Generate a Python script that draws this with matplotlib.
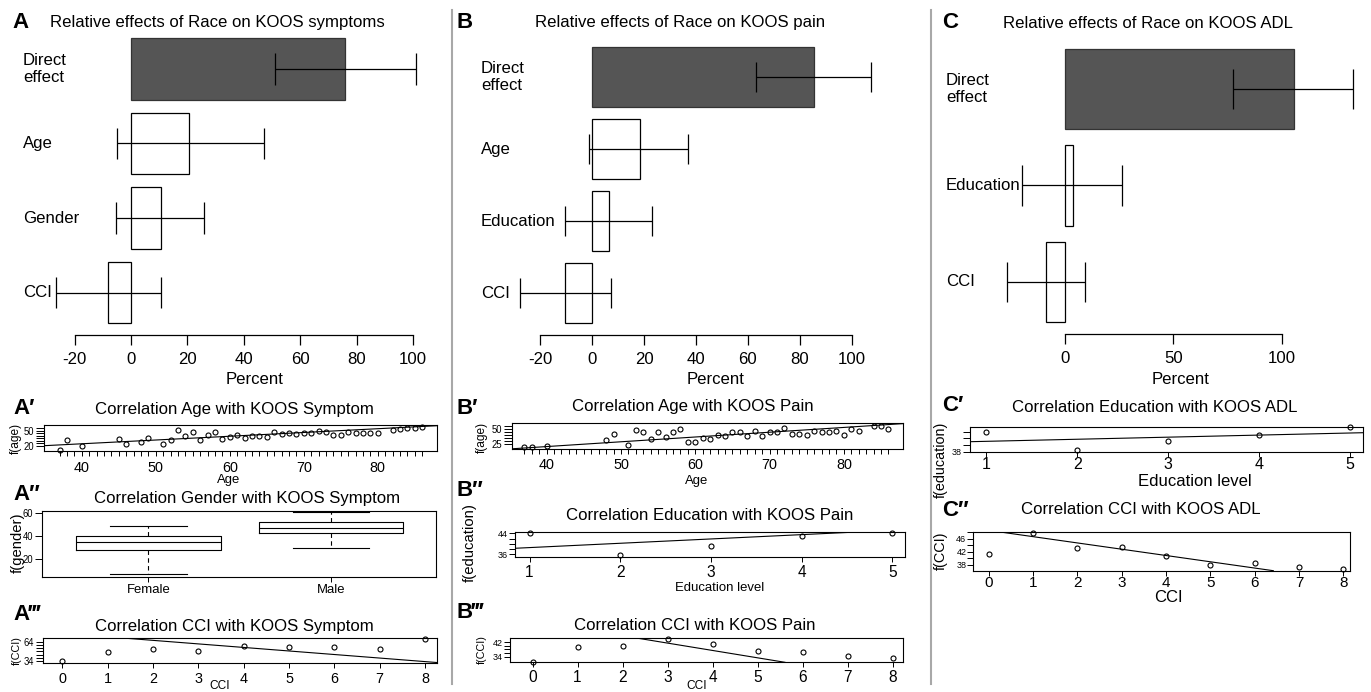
import numpy as np
import matplotlib
matplotlib.use("Agg")
import matplotlib.pyplot as plt
import matplotlib.transforms as mtransforms
from matplotlib import font_manager
from matplotlib.lines import Line2D

# top row: relative effect of race (percent) with interval
a_labels = ["Direct\neffect", "Age", "Gender", "CCI"]
a_est = [76, 20.6, 10.6, -8]
a_lo = [50.9, -5, -5.5, -26.7]
a_hi = [101, 47, 26, 10.6]

b_labels = ["Direct\neffect", "Age", "Education", "CCI"]
b_est = [85.5, 18.5, 6.4, -10.3]
b_lo = [63, -1.3, -10.6, -27.7]
b_hi = [107.3, 37, 23, 7.2]

c_labels = ["Direct\neffect", "Education", "CCI"]
c_est = [105.5, 3.5, -8.8]
c_lo = [77.4, -19.7, -26.9]
c_hi = [132.8, 26.4, 9.2]

# A' age vs f(age), symptoms
a1_age = [37, 38, 40, 45, 46, 48, 49, 51, 52, 53, 54, 55, 56, 57, 58, 59, 60, 61, 62, 63, 64,
          65, 66, 67, 68, 69, 70, 71, 72, 73, 74, 75, 76, 77, 78, 79, 80, 82, 83, 84, 85, 86]
a1_f = [11.4, 31.4, 19.4, 33.4, 24, 26.7, 36, 24, 30.7, 50.7, 38.7, 48, 31.4, 41.3, 48, 33.4,
        38, 41.3, 36, 38.7, 40, 38, 48, 44, 46, 44, 45.4, 46, 50, 48, 40.7, 40.7, 48, 44.7,
        46, 46, 46, 50.7, 53.4, 54.7, 56, 58]
a1_fit = [(34.9, 20), (88.0, 60)]

# A'' gender boxplots
a2_groups = ["Female", "Male"]
a2_q1 = [27.7, 42.3]
a2_med = [34.6, 47.1]
a2_q3 = [40.3, 52.0]
a2_lo = [7.4, 29.5]
a2_hi = [48.6, 60.8]

# A''' CCI
a3_cci = [0, 1, 2, 3, 4, 5, 6, 7, 8]
a3_f = [34, 47.5, 52.2, 50, 57.8, 55.7, 56.2, 52.2, 68.5]
a3_fit = [(1.42, 69.3), (7.93, 33.5)]

# B' age, pain
b1_age = [37, 38, 40, 48, 49, 51, 52, 53, 54, 55, 56, 57, 58, 59, 60, 61, 62, 63, 64, 65,
          66, 67, 68, 69, 70, 71, 72, 73, 74, 75, 76, 77, 78, 79, 80, 81, 82, 84, 85, 86]
b1_f = [20, 20, 22, 32, 43, 24, 49, 45, 34, 45, 37, 45, 51, 29, 29, 35, 34, 41, 39, 45,
        45, 39, 47, 39, 45, 45, 53, 43, 43, 41, 48, 45, 45, 47, 41, 51, 47, 55, 55, 51]
b1_fit = [(35.3, 17.5), (88.0, 59.5)]

# B'' education, pain
b2_edu = [1, 2, 3, 4, 5]
b2_f = [44, 35.7, 39.3, 43.1, 44]
b2_fit = [(0.84, 38.3), (4.68, 44.6)]

# B''' CCI, pain
b3_cci = [0, 1, 2, 3, 4, 5, 6, 7, 8]
b3_f = [31.3, 39.2, 39.9, 43.9, 40.9, 37.1, 36.4, 34.5, 33.1]
b3_fit = [(2.35, 44.2), (5.61, 30.9)]

# C' education, ADL
c1_edu = [1, 2, 3, 4, 5]
c1_f = [44, 38.5, 41.2, 43, 45.3]
c1_fit = [(0.82, 41), (5.15, 43.7)]

# C'' CCI, ADL
c2_cci = [0, 1, 2, 3, 4, 5, 6, 7, 8]
c2_f = [41.3, 47.9, 43.3, 43.6, 40.6, 38, 38.7, 37.2, 36.8]
c2_fit = [(0.21, 48.2), (6.42, 36.2)]

# fonts: narrow helvetica look if we have it
names = {f.name for f in font_manager.fontManager.ttflist}
if "Liberation Sans Narrow" in names:
    narrow = "Liberation Sans Narrow"
    k = 1.0
else:
    narrow = "Liberation Sans"
    k = 0.86
plt.rcParams["font.family"] = [narrow, "DejaVu Sans"]
plt.rcParams["axes.unicode_minus"] = False
REG = ["Liberation Sans", "DejaVu Sans"]

W, H = 1371, 692
fig = plt.figure(figsize=(W / 100, H / 100), dpi=100)


def px_axes(x0, y0, x1, y1):
    return fig.add_axes([x0 / W, 1 - y1 / H, (x1 - x0) / W, (y1 - y0) / H])


def ftext(x, y, s, size, **kw):
    kw.setdefault("ha", "center")
    kw.setdefault("va", "center")
    fig.text(x / W, 1 - y / H, s, fontsize=size, **kw)


def letter(x, y, s):
    fig.text(x / W, 1 - y / H, s, fontsize=16, fontweight="bold", family=REG,
             ha="left", va="center")


def effect_panel(box, xlim, ylim, labels, est, lo, hi, ticks, label_x):
    ax = px_axes(*box)
    rows = np.arange(len(labels))
    fills = ["#555555"] + ["white"] * (len(labels) - 1)
    edges = ["#333333"] + ["black"] * (len(labels) - 1)
    ax.barh(rows, est, height=0.83, color=fills, edgecolor=edges, linewidth=0.9)
    ax.hlines(rows, lo, hi, color="black", lw=0.9)
    ax.vlines(lo, rows - 0.21, rows + 0.21, color="black", lw=0.9)
    ax.vlines(hi, rows - 0.21, rows + 0.21, color="black", lw=0.9)
    ax.set_xlim(xlim)
    ax.set_ylim(ylim)
    for s in ["top", "right", "left"]:
        ax.spines[s].set_visible(False)
    ax.spines["bottom"].set_bounds(ticks[0], ticks[-1])
    ax.spines["bottom"].set_linewidth(0.9)
    ax.set_xticks(ticks)
    ax.set_yticks([])
    ax.tick_params(axis="x", length=7, width=0.9, pad=5, labelsize=14 * k)
    ax.patch.set_visible(False)
    trans = mtransforms.blended_transform_factory(fig.transFigure, ax.transData)
    for r, lab in zip(rows, labels):
        ax.text(label_x / W, r, lab, transform=trans, ha="left", va="center",
                fontsize=14 * k, linespacing=1.1)
    return ax


def small_panel(box, xlim, ylim, xsize, xpad, ysize, ylen):
    ax = px_axes(*box)
    ax.set_xlim(xlim)
    ax.set_ylim(ylim)
    for s in ax.spines.values():
        s.set_linewidth(0.8)
    ax.tick_params(axis="x", which="both", direction="out", length=3.5, width=0.7,
                   pad=xpad, labelsize=xsize)
    ax.tick_params(axis="y", which="both", direction="out", length=ylen, width=0.7,
                   pad=1, labelsize=ysize)
    return ax


def dots(ax, x, y, fit):
    ax.plot(x, y, "o", mfc="none", mec="black", ms=3.6, mew=0.8, clip_on=False)
    ax.axline(fit[0], fit[1], color="black", lw=0.8)


# ---- top row ----
effect_panel((40, 30, 440, 335), (-32.3, 109.6), (3.57, -0.523),
             a_labels, a_est, a_lo, a_hi, [-20, 0, 20, 40, 60, 80, 100], 23)
effect_panel((505, 30, 900, 335), (-33.5, 118.5), (3.583, -0.653),
             b_labels, b_est, b_lo, b_hi, [-20, 0, 20, 40, 60, 80, 100], 481)
effect_panel((990, 30, 1365, 334), (-34.6, 138.4), (2.539, -0.611),
             c_labels, c_est, c_lo, c_hi, [0, 50, 100], 946)

letter(12, 22, "A")
letter(457, 22, "B")
letter(942, 22, "C")
ftext(217, 23, "Relative effects of Race on KOOS symptoms", 14 * k)
ftext(680, 23, "Relative effects of Race on KOOS pain", 14 * k)
ftext(1148, 23, "Relative effects of Race on KOOS ADL", 14 * k)
ftext(255, 380, "Percent", 14 * k)
ftext(716, 380, "Percent", 14 * k)
ftext(1181, 380, "Percent", 14 * k)

# ---- A' ----
ax = small_panel((44, 425, 437, 451), (34.9, 88.0), (9.4, 61.4), 12 * k, 3.5, 8 * k, 6)
dots(ax, a1_age, a1_f, a1_fit)
ax.set_xticks([40, 50, 60, 70, 80])
ax.set_xticks(np.arange(37, 87), minor=True)
ax.set_yticks([20, 50])
ax.set_yticks([25, 30, 35, 40, 45, 55], minor=True)
letter(13, 408, "A\u2032")
ftext(234, 410, "Correlation Age with KOOS Symptom", 14 * k)
ftext(229, 480, "Age", 11 * k)
ftext(16, 438, "f(age)", 10 * k, rotation=90)

# ---- A'' ----
ax = small_panel((41.7, 510.7, 435.7, 576.7), (0.416, 2.573), (5.1, 61.7), 11 * k, 1.5, 8 * k, 5)
stats = []
for i in range(2):
    stats.append(dict(med=a2_med[i], q1=a2_q1[i], q3=a2_q3[i], whislo=a2_lo[i],
                      whishi=a2_hi[i], fliers=[], label=a2_groups[i]))
ax.bxp(stats, positions=[1, 2], widths=0.79, capwidths=0.42, showfliers=False,
       boxprops=dict(color="black", lw=0.8),
       whiskerprops=dict(color="black", lw=0.8, linestyle=(0, (4, 3))),
       capprops=dict(color="black", lw=0.8),
       medianprops=dict(color="black", lw=0.8))
ax.set_xlim(0.416, 2.573)
ax.set_ylim(5.1, 61.7)
ax.set_yticks([20, 40, 60])
letter(13, 494, "A\u2033")
ftext(247, 498, "Correlation Gender with KOOS Symptom", 14 * k)
ftext(18, 543, "f(gender)", 12.5 * k, rotation=90)

# ---- A''' ----
ax = small_panel((42.7, 638.3, 437.3, 662.7), (-0.43, 8.27), (31.4, 69.3), 12 * k, 3, 8 * k, 5)
dots(ax, a3_cci, a3_f, a3_fit)
ax.set_xticks(range(9))
ax.set_yticks([34, 64])
ax.set_yticks([39, 44, 49, 54, 59], minor=True)
letter(13, 615, "A\u2034")
ftext(234, 626, "Correlation CCI with KOOS Symptom", 14 * k)
ftext(220, 686, "CCI", 10 * k)
ftext(17, 651, "f(CCI)", 9 * k, rotation=90)

# ---- B' ----
ax = small_panel((511.7, 423.3, 903.3, 449.3), (35.3, 88.0), (16.7, 60), 12 * k, 3, 8 * k, 6)
dots(ax, b1_age, b1_f, b1_fit)
ax.set_xticks([40, 50, 60, 70, 80])
ax.set_xticks(np.arange(37, 87), minor=True)
ax.set_yticks([25, 50])
ax.set_yticks([30, 35, 40, 45, 55], minor=True)
letter(457, 408, "B\u2032")
ftext(693, 406, "Correlation Age with KOOS Pain", 14 * k)
ftext(697, 481, "Age", 11 * k)
ftext(482, 437, "f(age)", 10 * k, rotation=90)

# ---- B'' ----
ax = small_panel((515, 531.7, 905, 556.7), (0.84, 5.14), (35.1, 44.6), 13 * k, 2.5, 7.5 * k, 4)
dots(ax, b2_edu, b2_f, b2_fit)
ax.set_xticks(b2_edu)
ax.set_yticks([36, 44])
ax.set_yticks([38, 40, 42], minor=True)
letter(457, 491, "B\u2033")
ftext(710, 515, "Correlation Education with KOOS Pain", 14 * k)
ftext(720, 588, "Education level", 11 * k)
ftext(470, 543, "f(education)", 12.5 * k, rotation=90)

# ---- B''' ----
ax = small_panel((510, 638.3, 903.3, 662.3), (-0.5, 8.24), (30.9, 44.2), 13 * k, 2, 7.5 * k, 4)
dots(ax, b3_cci, b3_f, b3_fit)
ax.set_xticks(range(9))
ax.set_yticks([34, 42])
ax.set_yticks([36, 38, 40], minor=True)
letter(457, 612, "B\u2034")
ftext(695, 625, "Correlation CCI with KOOS Pain", 14 * k)
ftext(697, 686, "CCI", 10 * k)
ftext(482, 650, "f(CCI)", 9 * k, rotation=90)

# ---- C' ----
ax = small_panel((970, 426.7, 1363.3, 451.7), (0.82, 5.15), (38, 45.5), 11.5, 0.5, 6.5, 5)
ax.tick_params(axis="x", labelfontfamily=REG[0])
dots(ax, c1_edu, c1_f, c1_fit)
ax.set_xticks(c1_edu)
ax.set_yticks([38])
ax.set_yticks([40, 42, 44], minor=True)
letter(942, 405, "C\u2032")
ftext(1155, 408, "Correlation Education with KOOS ADL", 14 * k)
ftext(1195, 482, "Education level", 12, family=REG)
ftext(941, 460, "f(education)", 12 * k, rotation=90)

# ---- C'' ----
ax = small_panel((973.3, 531.7, 1350, 570.7), (-0.35, 8.15), (36.2, 48.2), 11, 0.5, 6.5, 4)
ax.tick_params(axis="x", labelfontfamily=REG[0])
dots(ax, c2_cci, c2_f, c2_fit)
ax.set_xticks(range(9))
ax.set_yticks([38, 42, 46])
ax.set_yticks([40, 44, 48], minor=True)
letter(942, 510, "C\u2033")
ftext(1141, 510, "Correlation CCI with KOOS ADL", 14 * k)
ftext(1168, 597, "CCI", 12, family=REG)
ftext(941, 551, "f(CCI)", 12 * k, rotation=90)

# grey separators between the three columns
for xs in [452, 931]:
    fig.add_artist(Line2D([xs / W, xs / W], [1 - 10 / H, 1 - 684 / H], color="#a8a8a8", lw=1.5))

fig.savefig("out.png", dpi=100)
